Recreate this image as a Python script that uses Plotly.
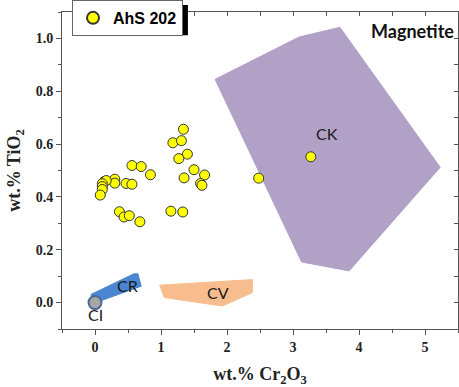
import plotly.graph_objects as go

# ---- data ----
ahs_cr2o3 = [1.34, 1.18, 1.31, 1.40, 1.27, 1.50, 1.66, 1.60, 1.62, 1.35,
             0.56, 0.70, 0.84, 0.47, 0.56, 0.30, 0.30, 0.14, 0.17, 0.11,
             0.11, 0.11, 0.08, 0.37, 0.44, 0.52, 0.68, 1.15, 1.33, 2.48, 3.27]
ahs_tio2 = [0.656, 0.605, 0.613, 0.562, 0.545, 0.503, 0.483, 0.451, 0.444, 0.472,
            0.519, 0.515, 0.484, 0.451, 0.448, 0.467, 0.452, 0.458, 0.462, 0.450,
            0.439, 0.428, 0.407, 0.344, 0.324, 0.329, 0.306, 0.346, 0.343, 0.471, 0.552]

ck_x = [1.82, 3.09, 3.71, 5.23, 3.85, 3.13]
ck_y = [0.845, 1.005, 1.042, 0.512, 0.120, 0.154]
cr_x = [-0.06, 0.59, 0.65, 0.70, 0.11, -0.045]
cr_y = [0.031, 0.109, 0.109, 0.062, 0.009, 0.003]
cv_x = [0.98, 2.385, 2.385, 1.93, 1.05]
cv_y = [0.066, 0.087, 0.038, -0.013, 0.019]
ci_x = [0.0]
ci_y = [0.0]

region_labels = ["CK", "CR", "CV", "CI"]
label_x = [3.51, 0.49, 1.87, 0.01]
label_y = [0.64, 0.066, 0.038, -0.045]

x_ticks = [0, 1, 2, 3, 4, 5]
y_ticks = [0.0, 0.2, 0.4, 0.6, 0.8, 1.0]

AX = "#555555"
SERIF = "Liberation Serif, Times New Roman, serif"
LABEL_FONT = "Lato, Open Sans, sans-serif"

fig = go.Figure()

for xs, ys, col in [(ck_x, ck_y, "#B1A1C7"), (cr_x, cr_y, "#4A86D2"), (cv_x, cv_y, "#F8BD8E")]:
    fig.add_trace(go.Scatter(x=xs + xs[:1], y=ys + ys[:1], mode="lines", fill="toself",
                             fillcolor=col, line=dict(color=col, width=1),
                             showlegend=False, hoverinfo="skip"))

fig.add_trace(go.Scatter(x=ci_x, y=ci_y, mode="markers", showlegend=False,
                         marker=dict(size=13, color="#A6A6A6",
                                     line=dict(color="#4C6A94", width=2))))

fig.add_trace(go.Scatter(x=ahs_cr2o3, y=ahs_tio2, mode="markers", name="<b>AhS 202</b>",
                         marker=dict(size=10, color="#FFFF00",
                                     line=dict(color="#333333", width=1))))

for t, lx, ly in zip(region_labels, label_x, label_y):
    fig.add_annotation(x=lx, y=ly, text=t, showarrow=False,
                       font=dict(family=LABEL_FONT, size=16, color="#1a1a1a"))

fig.add_annotation(xref="paper", yref="paper", x=0.995, y=0.94, xanchor="right",
                   yanchor="middle", text="<b>Magnetite</b>", showarrow=False,
                   font=dict(family=LABEL_FONT, size=18, color="#111111"))

# legend shadow
fig.add_shape(type="rect", xref="paper", yref="paper", x0=0.038, x1=0.318,
              y0=0.927, y1=1.022, fillcolor="black", line=dict(width=0), layer="above")

fig.update_layout(
    width=459, height=387,
    margin=dict(l=62, r=1, t=12, b=58, autoexpand=False),
    plot_bgcolor="white", paper_bgcolor="white",
    showlegend=True,
    legend=dict(x=0.0253, y=1.038, xanchor="left", yanchor="top",
                bgcolor="white", bordercolor="#666666", borderwidth=1,
                font=dict(family="Liberation Sans, Arial, sans-serif", size=16, color="black"),
                itemsizing="constant", tracegroupgap=0),
    xaxis=dict(range=[-0.5, 5.5], tickvals=x_ticks, showgrid=False, zeroline=False,
               showline=True, linecolor=AX, linewidth=1, ticks="outside", ticklen=5,
               tickcolor=AX, minor=dict(dtick=0.5, tick0=0, ticks="outside", ticklen=3, tickcolor=AX),
               tickfont=dict(family=SERIF, size=14, color="#222", weight="bold"),
               title=dict(text="<b>wt.% Cr<sub>2</sub>O<sub>3</sub></b>", standoff=14,
                          font=dict(family=SERIF, size=18, color="#222"))),
    yaxis=dict(range=[-0.1, 1.1], tickvals=y_ticks, ticktext=[f"{v:.1f}" for v in y_ticks],
               showgrid=False, zeroline=False,
               showline=True, linecolor=AX, linewidth=1, ticks="outside", ticklen=5,
               tickcolor=AX, minor=dict(dtick=0.1, tick0=0, ticks="outside", ticklen=3, tickcolor=AX),
               tickfont=dict(family=SERIF, size=14, color="#222", weight="bold"),
               title=dict(text="<b>wt.% TiO<sub>2</sub></b>", standoff=10,
                          font=dict(family=SERIF, size=18, color="#222"))),
    xaxis2=dict(overlaying="x", matches="x", side="top", range=[-0.5, 5.5], showline=True,
                linecolor=AX, linewidth=1, ticks="inside", ticklen=4, tickcolor=AX,
                dtick=0.5, tick0=0, showticklabels=False, showgrid=False, zeroline=False),
    yaxis2=dict(overlaying="y", matches="y", side="right", range=[-0.1, 1.1], showline=True,
                linecolor=AX, linewidth=1, ticks="inside", ticklen=4, tickcolor=AX,
                dtick=0.1, tick0=0, showticklabels=False, showgrid=False, zeroline=False),
)

# invisible trace to activate the mirror axes
fig.add_trace(go.Scatter(x=[0], y=[0], xaxis="x2", yaxis="y2", mode="markers",
                         marker=dict(opacity=0), showlegend=False, hoverinfo="skip"))

fig.write_html("out.html", config={"displayModeBar": False},
               post_script="document.body.style.margin='0';document.body.style.overflow='hidden';")
